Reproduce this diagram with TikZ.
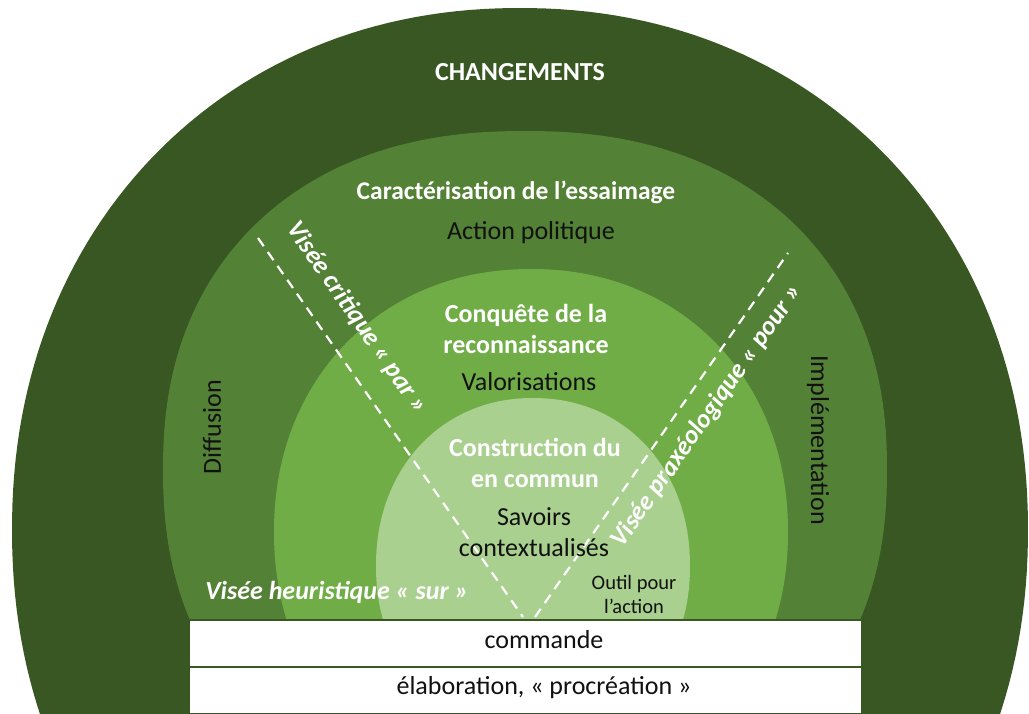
\documentclass[tikz,border=0pt]{standalone}
\usepackage{fontspec}
\setmainfont{Carlito}
\definecolor{gA}{HTML}{385723}
\definecolor{gB}{HTML}{538135}
\definecolor{gC}{HTML}{70AD47}
\definecolor{gD}{HTML}{A9D08E}
\definecolor{ink}{HTML}{111111}
\begin{document}
\begin{tikzpicture}[x=1pt,y=-1pt,
  lbl/.style={inner sep=0pt, align=center},
  wb/.style={lbl, text=white, font=\fontsize{26}{31}\selectfont\bfseries},
  wbi/.style={lbl, text=white, font=\fontsize{26}{31}\selectfont\bfseries\itshape},
  dk/.style={lbl, text=ink, font=\fontsize{26}{31}\selectfont},
  dks/.style={lbl, text=ink, font=\fontsize{20.5}{24}\selectfont},
  dashline/.style={white, line width=2.2pt, dash pattern=on 10pt off 7pt},
  sepline/.style={gA, line width=2.5pt}]
\useasboundingbox (0,0) rectangle (1029,713);
\clip (0,0) rectangle (1029,713);
% outer layer
\fill[gA] plot[domain=1:361,samples=241]
  ({520+508*cos(\x)*pow(abs(cos(\x)),2/2.1-1)},{530+522*sin(\x)*pow(abs(sin(\x)),2/2.1-1)}) -- cycle;
\begin{scope}
\clip (0,0) rectangle (1029,620);
\fill[gB] plot[domain=1:361,samples=241]
  ({525+362*cos(\x)*pow(abs(cos(\x)),2/2.25-1)},{470+339*sin(\x)*pow(abs(sin(\x)),2/2.25-1)}) -- cycle;
\fill[gC] plot[domain=1:361,samples=241]
  ({531+257*cos(\x)*pow(abs(cos(\x)),2/2.1-1)},{532+263*sin(\x)*pow(abs(sin(\x)),2/2.1-1)}) -- cycle;
\fill[gD] plot[domain=1:361,samples=241]
  ({533+157*cos(\x)*pow(abs(cos(\x)),2/2.1-1)},{566+168*sin(\x)*pow(abs(sin(\x)),2/2.1-1)}) -- cycle;
\end{scope}
% bottom box
\fill[white] (190,620) rectangle (861,713);
\coordinate (boxtl) at (190,620);
\coordinate (boxtr) at (861,620);
\coordinate (boxml) at (190,667);
\coordinate (boxmr) at (861,667);
\draw[sepline] (boxtl) -- (boxtr);
\draw[sepline] (boxml) -- (boxmr);
% dashed lines
\coordinate (lt) at (258,238);
\coordinate (lb) at (523,617);
\coordinate (rb) at (535,617);
\coordinate (rt) at (788,253);
\draw[dashline] (lt) -- (lb);
\draw[dashline] (rb) -- (rt);
% texts
\node[wb] (chg) at (520,72) {CHANGEMENTS};
\node[wb, font=\fontsize{25.5}{31}\selectfont\bfseries] (carac) at (516,192) {Caractérisation de l’essaimage};
\node[dk] (actpol) at (531,233) {Action politique};
\node[wb] (conq) at (526,329) {Conquête de la\\reconnaissance};
\node[dk] (valo) at (529,382) {Valorisations};
\node[wb] (constr) at (535,463) {Construction du\\en commun};
\node[dk] (savoirs) at (534,532) {Savoirs\\contextualisés};
\node[dks] (outil) at (634,594) {Outil pour\\l’action};
\node[wbi] (heur) at (337,592) {Visée heuristique « sur »};
\node[wbi, rotate=-55] (crit) at (357,318) {Visée critique « par »};
\node[wbi, rotate=55] (praxe) at (707,416) {Visée praxéologique « pour »};
\node[dk, rotate=90] (diff) at (212,427) {Diffusion};
\node[dk, rotate=-90] (impl) at (818,440) {Implémentation};
\node[dk] (cmd) at (544,640) {commande};
\node[dk] (elab) at (544,688) {élaboration, « procréation »};
\end{tikzpicture}
\end{document}
